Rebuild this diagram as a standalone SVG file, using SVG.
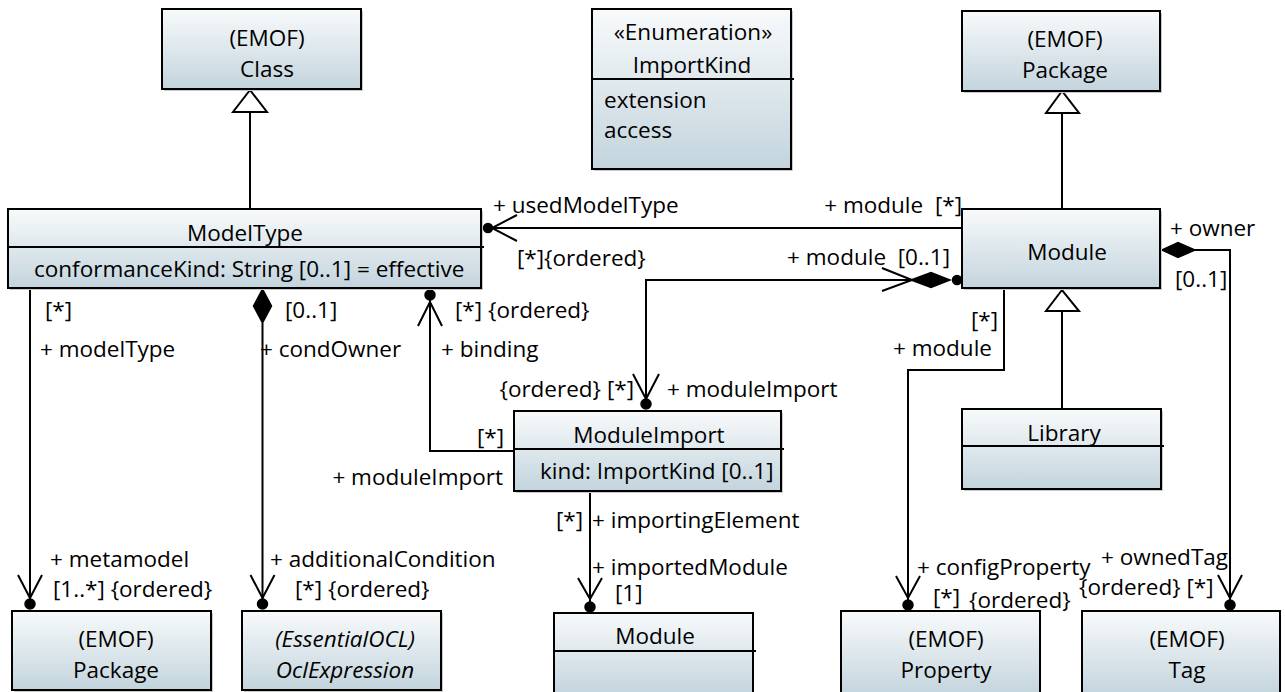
<svg xmlns="http://www.w3.org/2000/svg" width="1285" height="692" viewBox="0 0 1285 692">
<defs>
<linearGradient id="g" x1="0" y1="0" x2="0" y2="1">
<stop offset="0" stop-color="#f8fafb"/>
<stop offset="1" stop-color="#c3d4dd"/>
</linearGradient>
<style>
text{font-family:"Open Sans","Noto Sans",sans-serif;font-size:22.5px;fill:#000}
.box{fill:url(#g);stroke:#000;stroke-width:2}
.sh{fill:#c9c9c9}
.div{stroke:#000;stroke-width:2;fill:none}
.c{text-anchor:middle}
.e{text-anchor:end}
.i{font-style:italic}
.ln{fill:none;stroke:#000;stroke-width:2}
.fill{fill:#000;stroke:#000;stroke-width:1.5}
.hollow{fill:#fff;stroke:#000;stroke-width:2}
</style>
</defs>
<rect width="1285" height="692" fill="#fff"/>

<g id="connectors">
<!-- generalizations -->
<line class="ln" x1="250" y1="209" x2="250" y2="112"/>
<polygon class="hollow" points="250,90 233,112 267,112"/>
<line class="ln" x1="1062" y1="209" x2="1062" y2="113"/>
<polygon class="hollow" points="1062,91 1046,113 1079,113"/>
<line class="ln" x1="1062" y1="409" x2="1062" y2="311"/>
<polygon class="hollow" points="1062,290 1046,311 1079,311"/>
<!-- usedModelType -->
<line class="ln" x1="962" y1="228" x2="492" y2="228"/>
<circle class="fill" cx="488" cy="228" r="4.5"/>
<polyline class="ln" points="517,215 492,228 517,241"/>
<!-- module - moduleImport composition -->
<polyline class="ln" points="912,280 646,280 646,399"/>
<polygon class="fill" points="911,280 931,272.5 950,280 931,287.5"/>
<circle class="fill" cx="957" cy="280" r="4.5"/>
<polyline class="ln" points="882,268 912,280 882,291"/>
<polyline class="ln" points="633,374 646,399 659,374"/>
<circle class="fill" cx="646" cy="404" r="5"/>
<!-- owner / ownedTag -->
<polygon class="fill" points="1162,250 1178,242.5 1195,250 1178,257.5"/>
<polyline class="ln" points="1195,250 1230,250 1230,600"/>
<polyline class="ln" points="1218,575 1230,598 1242,575"/>
<circle class="fill" cx="1230" cy="605" r="5"/>
<!-- module / configProperty -->
<polyline class="ln" points="1004,288 1004,370 908,370 908,600"/>
<polyline class="ln" points="896,576 908,598 920,576"/>
<circle class="fill" cx="908" cy="605" r="5"/>
<!-- modelType / metamodel -->
<line class="ln" x1="30" y1="288" x2="30" y2="600"/>
<polyline class="ln" points="18,575 30,598 42,575"/>
<circle class="fill" cx="30" cy="604" r="5"/>
<!-- condOwner / additionalCondition -->
<polygon class="fill" points="262.5,289 271.5,306 262.5,323 253.5,306"/>
<line class="ln" x1="262.5" y1="323" x2="262.5" y2="600"/>
<polyline class="ln" points="250.5,575 262.5,598 274.5,575"/>
<circle class="fill" cx="262.5" cy="604" r="5"/>
<!-- binding -->
<polyline class="ln" points="514,451 430,451 430,300"/>
<polyline class="ln" points="418,326 430,302 442,326"/>
<circle class="fill" cx="430" cy="295" r="5"/>
<!-- importingElement / importedModule -->
<line class="ln" x1="590" y1="491" x2="590" y2="602"/>
<polyline class="ln" points="578,578 590,599 602,578"/>
<circle class="fill" cx="590" cy="607" r="5"/>

<!-- labels -->
<text x="493" y="213">+ usedModelType</text>
<text x="517" y="266">[*]{ordered}</text>
<text x="962" y="213" class="e" xml:space="preserve">+ module  [*]</text>
<text x="950" y="265" class="e" xml:space="preserve">+ module  [0..1]</text>
<text x="1170" y="236">+ owner</text>
<text x="1175" y="287">[0..1]</text>
<text x="998" y="328" class="e">[*]</text>
<text x="992" y="356" class="e">+ module</text>
<text x="45" y="318">[*]</text>
<text x="40" y="357">+ modelType</text>
<text x="285" y="318">[0..1]</text>
<text x="260" y="357">+ condOwner</text>
<text x="455" y="318">[*] {ordered}</text>
<text x="441" y="357">+ binding</text>
<text x="634" y="397" class="e">{ordered} [*]</text>
<text x="667" y="397">+ moduleImport</text>
<text x="477" y="445">[*]</text>
<text x="503" y="485" class="e">+ moduleImport</text>
<text x="50" y="567">+ metamodel</text>
<text x="53" y="597">[1..*] {ordered}</text>
<text x="270" y="567">+ additionalCondition</text>
<text x="295" y="597">[*] {ordered}</text>
<text x="556" y="528">[*]</text>
<text x="592" y="528">+ importingElement</text>
<text x="592" y="575">+ importedModule</text>
<text x="615" y="601">[1]</text>
<text x="917" y="575">+ configProperty</text>
<text x="933" y="605">[*]</text>
<text x="969" y="608">{ordered}</text>
<text x="1101" y="565">+ ownedTag</text>
<text x="1079" y="595">{ordered} [*]</text>
</g>

<g id="Class">
<rect class="sh" x="164" y="11" width="199" height="80"/>
<rect class="box" x="162" y="9" width="199" height="80"/>
<text x="267" y="46" class="c">(EMOF)</text>
<text x="267" y="77" class="c">Class</text>
</g>

<g id="ImportKind">
<rect class="sh" x="594" y="11" width="199" height="160"/>
<rect class="box" x="592" y="9" width="199" height="160"/>
<line class="div" x1="592" y1="79" x2="794" y2="79"/>
<text x="693" y="40" class="c">«Enumeration»</text>
<text x="692" y="73" class="c">ImportKind</text>
<text x="604" y="108">extension</text>
<text x="604" y="138">access</text>
</g>

<g id="PackageTop">
<rect class="sh" x="964" y="13" width="198" height="80"/>
<rect class="box" x="962" y="11" width="198" height="80"/>
<text x="1065" y="47" class="c">(EMOF)</text>
<text x="1065" y="78" class="c">Package</text>
</g>

<g id="ModelType">
<rect class="sh" x="10" y="211" width="473" height="79"/>
<rect class="box" x="8" y="209" width="473" height="79"/>
<line class="div" x1="8" y1="247" x2="484" y2="247"/>
<text x="245" y="241" class="c">ModelType</text>
<text x="34" y="277">conformanceKind: String [0..1] = effective</text>
</g>

<g id="Module">
<rect class="sh" x="964" y="211" width="198" height="79"/>
<rect class="box" x="962" y="209" width="198" height="79"/>
<text x="1067" y="260" class="c">Module</text>
</g>

<g id="ModuleImport">
<rect class="sh" x="516" y="413" width="267" height="80"/>
<rect class="box" x="514" y="411" width="267" height="80"/>
<line class="div" x1="514" y1="449" x2="784" y2="449"/>
<text x="649" y="443" class="c">ModuleImport</text>
<text x="540" y="479">kind: ImportKind [0..1]</text>
</g>

<g id="Library">
<rect class="sh" x="964" y="411" width="199" height="80"/>
<rect class="box" x="962" y="409" width="199" height="80"/>
<line class="div" x1="962" y1="446" x2="1164" y2="446"/>
<text x="1064" y="441" class="c">Library</text>
</g>

<g id="PackageBottom">
<rect class="sh" x="14" y="613" width="199" height="79"/>
<rect class="box" x="12" y="611" width="199" height="79"/>
<text x="116" y="647" class="c">(EMOF)</text>
<text x="116" y="678" class="c">Package</text>
</g>

<g id="OclExpression">
<rect class="sh" x="244" y="613" width="199" height="79"/>
<rect class="box" x="242" y="611" width="199" height="79"/>
<text x="345" y="647" class="c i">(EssentialOCL)</text>
<text x="345" y="678" class="c i">OclExpression</text>
</g>

<g id="ModuleBottom">
<rect class="box" x="554" y="613" width="199" height="82"/>
<line class="div" x1="554" y1="651" x2="756" y2="651"/>
<text x="655" y="644" class="c">Module</text>
</g>

<g id="Property">
<rect class="box" x="841" y="611" width="199" height="85"/>
<text x="946" y="647" class="c">(EMOF)</text>
<text x="946" y="678" class="c">Property</text>
</g>

<g id="Tag">
<rect class="box" x="1082" y="611" width="198" height="85"/>
<text x="1187" y="647" class="c">(EMOF)</text>
<text x="1187" y="678" class="c">Tag</text>
</g>
</svg>
